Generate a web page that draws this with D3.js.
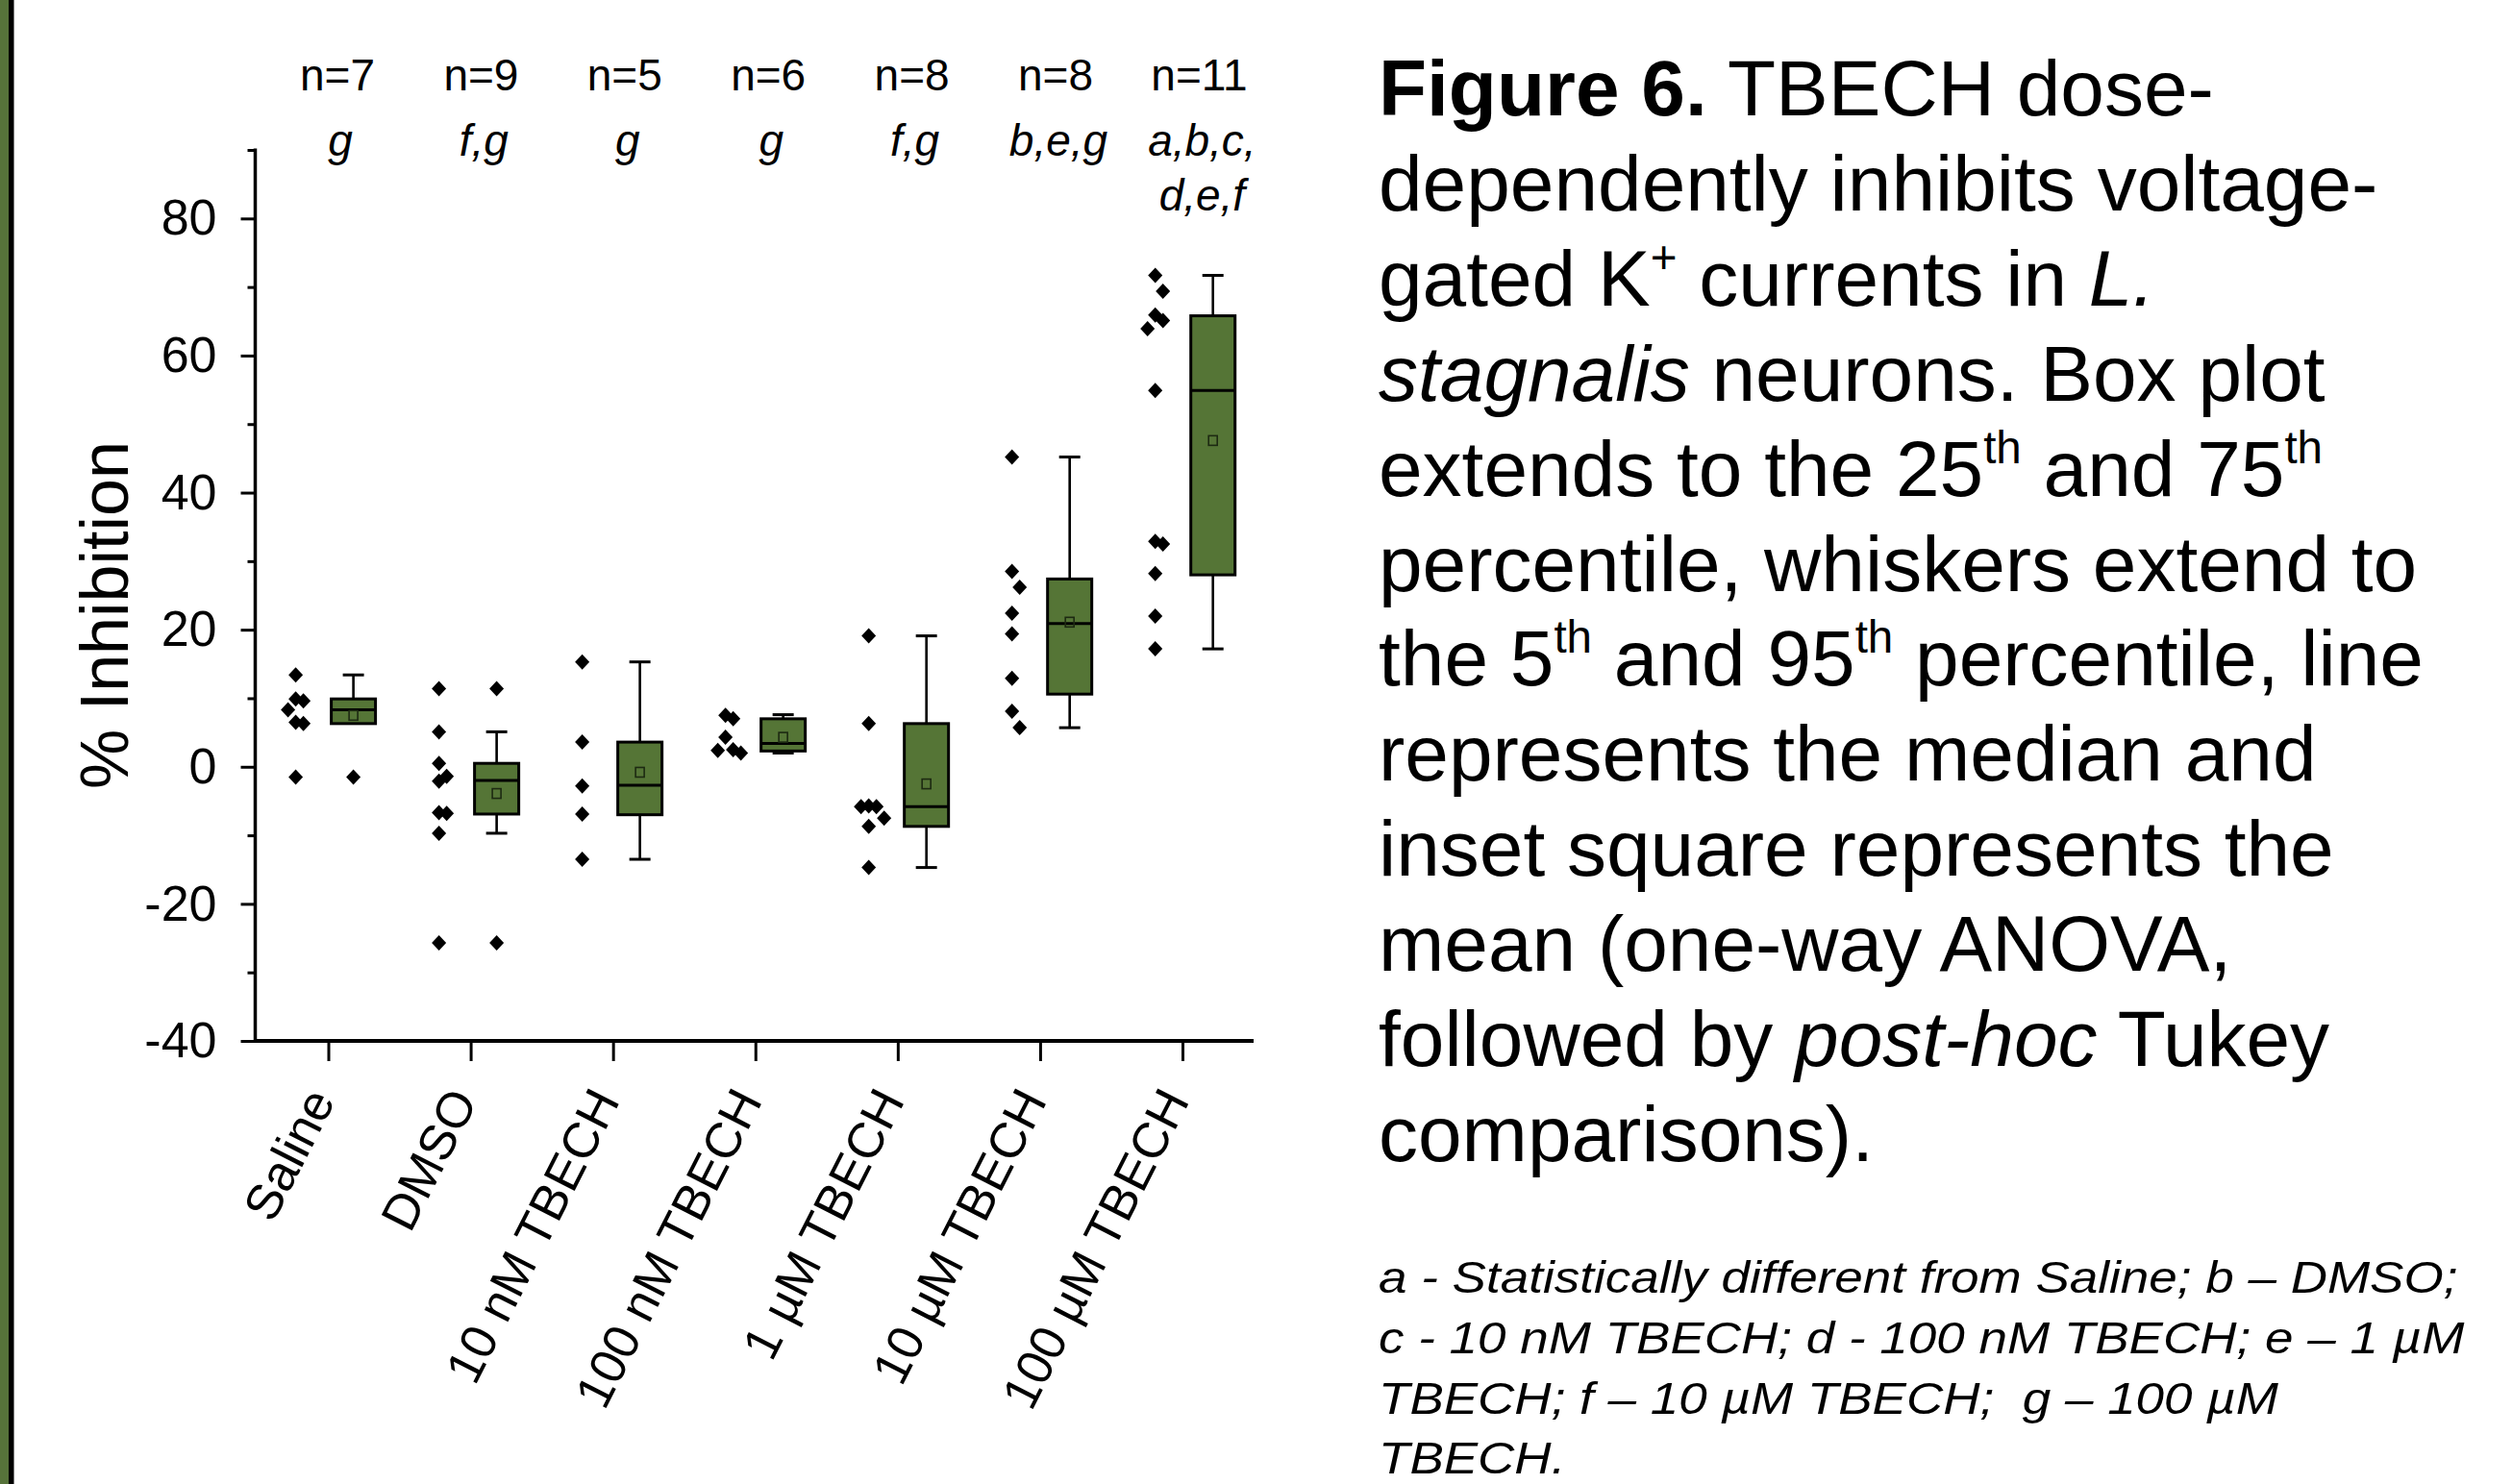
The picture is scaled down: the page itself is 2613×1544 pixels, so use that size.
<!DOCTYPE html>
<html>
<head>
<meta charset="utf-8">
<script src="https://cdn.jsdelivr.net/npm/d3@7"></script>
<style>
  body { margin: 0; background: #fff; }
  text { font-family: "Liberation Sans", Arial, sans-serif; fill: #000; }
</style>
</head>
<body>
<script>
// Box plot: % inhibition of K+ currents per treatment

// categories and annotations
var groups = ["Saline", "DMSO", "10 nM TBECH", "100 nM TBECH", "1 µM TBECH", "10 µM TBECH", "100 µM TBECH"];
var nLabels = ["n=7", "n=9", "n=5", "n=6", "n=8", "n=8", "n=11"];
var sigLabels = [["g"], ["f,g"], ["g"], ["g"], ["f,g"], ["b,e,g"], ["a,b,c,", "d,e,f"]];

// individual cells, % inhibition
var salinePts = [13.4, 9.9, 9.6, 8.3, 6.5, 6.3, -1.5];
var dmsoPts = [11.4, 5.1, 0.5, -1.4, -2.1, -6.7, -6.8, -9.7, -25.7];
var nm10Pts = [15.3, 3.6, -2.8, -6.9, -13.5];
var nm100Pts = [7.5, 7.0, 4.3, 2.5, 2.4, 2.0];
var um1Pts = [19.1, 6.3, -5.7, -5.8, -5.8, -7.5, -8.7, -14.7];
var um10Pts = [45.2, 28.5, 26.2, 22.4, 19.4, 12.9, 8.1, 5.7];
var um100Pts = [71.7, 69.4, 65.9, 65.1, 63.9, 54.9, 32.9, 32.5, 28.2, 22.0, 17.2];
var allPts = [salinePts, dmsoPts, nm10Pts, nm100Pts, um1Pts, um10Pts, um100Pts];

// box statistics (5th, 25th, median, 75th, 95th percentile, mean)
var p5 = [6.3, -9.7, -13.5, 2.0, -14.7, 5.7, 17.2];
var q1 = [6.3, -6.9, -7.0, 2.3, -8.7, 10.6, 28.0];
var medians = [8.3, -2.0, -2.7, 3.4, -5.8, 20.9, 54.9];
var q3 = [9.9, 0.5, 3.6, 7.0, 6.3, 27.4, 65.8];
var p95 = [13.4, 5.1, 15.3, 7.6, 19.1, 45.2, 71.7];
var means = [7.5, -3.9, -0.8, 4.3, -2.5, 21.1, 47.6];

// axis ticks
var yMajor = [-40, -20, 0, 20, 40, 60, 80];
var yMinor = [-30, -10, 10, 30, 50, 70, 90];

// caption text
var captionLines = [
    [["Figure 6.", "b"], [" TBECH dose-", ""]],
    [["dependently inhibits voltage-", ""]],
    [["gated K", ""], ["+", "sup"], [" currents in ", ""], ["L.", "i"]],
    [["stagnalis", "i"], [" neurons. Box plot", ""]],
    [["extends to the 25", ""], ["th", "sup"], [" and 75", ""], ["th", "sup"]],
    [["percentile, whiskers extend to", ""]],
    [["the 5", ""], ["th", "sup"], [" and 95", ""], ["th", "sup"], [" percentile, line", ""]],
    [["represents the median and", ""]],
    [["inset square represents the", ""]],
    [["mean (one-way ANOVA,", ""]],
    [["followed by ", ""], ["post-hoc", "i"], [" Tukey", ""]],
    [["comparisons).", ""]]
];
var footLines = [
    "a - Statistically different from Saline; b \u2013 DMSO;",
    "c - 10 nM TBECH; d - 100 nM TBECH; e \u2013 1 µM",
    "TBECH; f \u2013 10 µM TBECH;  g \u2013 100 µM",
    "TBECH."
];

var W = 2613, H = 1544;
var green = "#557536";

var svg = d3.select("body").append("svg")
    .attr("width", W)
    .attr("height", H)
    .style("display", "block");

svg.append("rect").attr("width", W).attr("height", H).attr("fill", "#fff");

// left frame strip
svg.append("rect").attr("x", 0).attr("y", 0).attr("width", 9).attr("height", H).attr("fill", "#56733a");
svg.append("rect").attr("x", 9).attr("y", 0).attr("width", 5.5).attr("height", H).attr("fill", "#000");

// plot area
var plotLeft = 265.5, plotBottom = 1083, plotTop = 156, axisEnd = 1304;

var y = d3.scaleLinear()
    .domain([-40, 90])
    .range([plotBottom, plotTop]);

// box centres
var x = d3.scalePoint()
    .domain(groups)
    .range([367.6, 1261.7]);

// axis tick positions
var xTick = d3.scalePoint()
    .domain(groups)
    .range([341.5, 1230]);

// annotation positions
var xNote = d3.scalePoint()
    .domain(groups)
    .range([351, 1247.4]);

var boxW = 46, capW = 22, slotW = 8, scatterOff = -60;

// Y axis, major and minor ticks
var yAxis = svg.append("g")
    .attr("transform", "translate(" + plotLeft + ",0)")
    .call(d3.axisLeft(y).tickValues(yMajor).tickSize(15).tickPadding(25).tickSizeOuter(0)
        .tickFormat(function(d) { return String(d); }));
yAxis.select(".domain").remove();
yAxis.selectAll("line").attr("stroke", "#000").attr("stroke-width", 3);
yAxis.selectAll("text").attr("font-size", 52).attr("font-family", "Liberation Sans, Arial, sans-serif");

var yMinorAxis = svg.append("g")
    .attr("transform", "translate(" + plotLeft + ",0)")
    .call(d3.axisLeft(y).tickValues(yMinor).tickSize(8).tickFormat(""));
yMinorAxis.select(".domain").remove();
yMinorAxis.selectAll("line").attr("stroke", "#000").attr("stroke-width", 3);

svg.append("line")
    .attr("x1", plotLeft).attr("x2", plotLeft)
    .attr("y1", y(90) - 1.5).attr("y2", plotBottom)
    .attr("stroke", "#000").attr("stroke-width", 3.5);

// X axis
var xAxis = svg.append("g")
    .attr("transform", "translate(0," + plotBottom + ")")
    .call(d3.axisBottom(xTick).tickSize(21).tickFormat(""));
xAxis.select(".domain").remove();
xAxis.selectAll("line").attr("stroke", "#000").attr("stroke-width", 3);

svg.append("line")
    .attr("x1", plotLeft - 1.5).attr("x2", axisEnd)
    .attr("y1", plotBottom).attr("y2", plotBottom)
    .attr("stroke", "#000").attr("stroke-width", 4);

// rotated category labels
svg.append("g").selectAll("text")
    .data(groups)
    .enter().append("text")
    .attr("transform", function(d) { return "translate(" + (xTick(d) + 8) + "," + 1145 + ") rotate(-63)"; })
    .attr("text-anchor", "end")
    .attr("font-size", 52)
    .text(function(d) { return d; });

// y axis title
svg.append("text")
    .attr("transform", "translate(133,640) rotate(-90)")
    .attr("text-anchor", "middle")
    .attr("font-size", 70)
    .text("% Inhibition");

// n and significance labels
svg.append("g").selectAll("text")
    .data(groups)
    .enter().append("text")
    .attr("x", function(d) { return xNote(d); })
    .attr("y", 94)
    .attr("text-anchor", "middle")
    .attr("font-size", 46)
    .text(function(d, i) { return nLabels[i]; });

groups.forEach(function(g, i) {
    sigLabels[i].forEach(function(s, j) {
        svg.append("text")
            .attr("x", xNote(g) + 3)
            .attr("y", 162 + j * 56.6)
            .attr("text-anchor", "middle")
            .attr("font-size", 46)
            .attr("font-style", "italic")
            .text(s);
    });
});

// diamond marker
function diamond(cx, cy) {
    var p = d3.path();
    p.moveTo(cx, cy - 8);
    p.lineTo(cx + 7.5, cy);
    p.lineTo(cx, cy + 8);
    p.lineTo(cx - 7.5, cy);
    p.closePath();
    return p.toString();
}

// simple dodge so overlapping points sit side by side
function dodge(values) {
    var placed = [];
    var order = [0, 1, -1, 2, -2, 3, -3];
    return values.map(function(v) {
        var py = y(v), s = 0;
        for (var k = 0; k < order.length; k++) {
            s = order[k];
            var hit = placed.some(function(p) { return p.slot === s && Math.abs(p.py - py) < 18; });
            if (!hit) break;
        }
        placed.push({ slot: s, py: py });
        return { v: v, slot: s };
    });
}

var marks = svg.append("g");

groups.forEach(function(g, i) {
    var cx = x(g);

    // scatter column
    marks.selectAll(null)
        .data(dodge(allPts[i]))
        .enter().append("path")
        .attr("d", function(d) { return diamond(cx + scatterOff + d.slot * slotW, y(d.v)); })
        .attr("fill", "#000");

    // whiskers
    [[q3[i], p95[i]], [q1[i], p5[i]]].forEach(function(w) {
        if (Math.abs(y(w[0]) - y(w[1])) < 1) return;
        marks.append("line")
            .attr("x1", cx).attr("x2", cx)
            .attr("y1", y(w[0])).attr("y2", y(w[1]))
            .attr("stroke", "#000").attr("stroke-width", 2.6);
        marks.append("line")
            .attr("x1", cx - capW / 2).attr("x2", cx + capW / 2)
            .attr("y1", y(w[1])).attr("y2", y(w[1]))
            .attr("stroke", "#000").attr("stroke-width", 3);
    });

    // box
    marks.append("rect")
        .attr("x", cx - boxW / 2)
        .attr("y", y(q3[i]))
        .attr("width", boxW)
        .attr("height", y(q1[i]) - y(q3[i]))
        .attr("fill", green)
        .attr("stroke", "#000")
        .attr("stroke-width", 3);

    marks.append("line")
        .attr("x1", cx - boxW / 2).attr("x2", cx + boxW / 2)
        .attr("y1", y(medians[i])).attr("y2", y(medians[i]))
        .attr("stroke", "#000").attr("stroke-width", 3);

    // mean square
    marks.append("rect")
        .attr("x", cx - 4.5)
        .attr("y", y(means[i]) - 5)
        .attr("width", 9)
        .attr("height", 10)
        .attr("fill", "none")
        .attr("stroke", "#1d2a12")
        .attr("stroke-width", 1.6);

    // points beyond the whiskers
    var outs = allPts[i].filter(function(v) { return v > p95[i] + 0.3 || v < p5[i] - 0.3; });
    marks.selectAll(null)
        .data(outs)
        .enter().append("path")
        .attr("d", function(v) { return diamond(cx, y(v)); })
        .attr("fill", "#000");
});

// caption
var capX = 1434, capY0 = 120, capStep = 98.9, capSize = 82;
captionLines.forEach(function(line, li) {
    var t = svg.append("text")
        .attr("x", capX)
        .attr("y", capY0 + li * capStep)
        .attr("font-size", capSize)
        .style("white-space", "pre");
    var shift = 0;
    line.forEach(function(seg) {
        var ts = t.append("tspan").text(seg[0]);
        if (seg[1] === "b") ts.attr("font-weight", "bold");
        if (seg[1] === "i") ts.attr("font-style", "italic");
        if (seg[1] === "sup") {
            ts.attr("font-size", capSize * 0.58).attr("dy", -34 - shift);
            shift = -34;
        } else if (shift !== 0) {
            ts.attr("dy", -shift);
            shift = 0;
        }
    });
});

// footnote
footLines.forEach(function(s, i) {
    svg.append("text")
        .attr("transform", "translate(1434," + (1345 + i * 62.8) + ") scale(1.14,1)")
        .attr("font-size", 46.5)
        .attr("font-style", "italic")
        .style("white-space", "pre")
        .text(s);
});
</script>
</body>
</html>
